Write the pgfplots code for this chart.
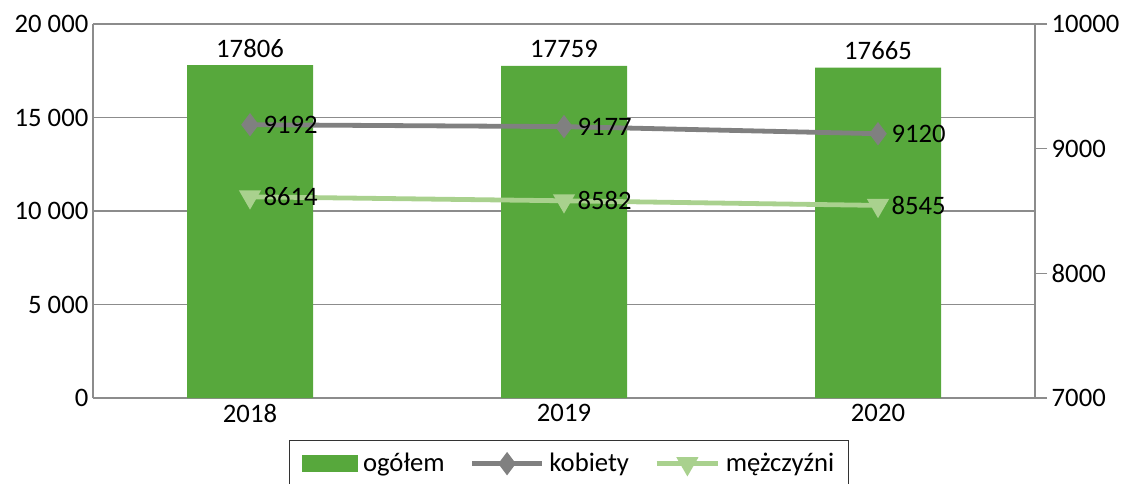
\documentclass[border=0pt]{standalone}
\usepackage{pgfplots}
\pgfplotsset{compat=1.18}
\usepackage{fontspec}
\setmainfont{Carlito}
\definecolor{barg}{HTML}{57A83C}
\definecolor{kob}{HTML}{808080}
\definecolor{mez}{HTML}{A9D18E}
\definecolor{gridc}{HTML}{8C8C8C}
\newcommand{\lblfont}{\fontsize{20}{24}\selectfont}
\pgfplotsset{
  kobleg/.style={legend image code/.code={\draw[##1, mark repeat=2, mark phase=2] plot coordinates {(0pt,0pt) (26pt,0pt) (52pt,0pt)};}},
  mezleg/.style={legend image code/.code={\draw[##1, mark repeat=2, mark phase=2] plot coordinates {(0pt,0pt) (23pt,0pt) (46pt,0pt)};}},
}
\begin{document}
\begin{tikzpicture}
\useasboundingbox (0,0) rectangle (846pt,-362.25pt);
\begin{axis}[
  at={(69.75pt,-298.5pt)}, anchor=south west,
  scale only axis, width=706.5pt, height=280.5pt,
  xmin=-0.5, xmax=2.5, ymin=0, ymax=20000,
  xtick={0,1,2}, xticklabels={2018,2019,2020},
  ytick={0,5000,10000,15000,20000},
  scaled y ticks=false,
  ymajorgrids, grid style={gridc, line width=1.2pt},
  axis line style={gridc, line width=1.2pt},
  axis y line*=left, axis x line*=bottom,
  major tick length=0pt,
  tick label style={font=\lblfont, text=black},
  /pgf/number format/assume math mode=true,
  yticklabel style={/pgf/number format/1000 sep={\ }},
  xticklabel style={yshift=-1pt},
]
\addplot[ybar, bar width=94.5pt, fill=barg, draw=none,
  nodes near coords, point meta=explicit symbolic,
  every node near coord/.append style={font=\lblfont, text=black, yshift=2.3pt}]
  coordinates {(0,17806)[17806] (1,17759)[17759] (2,17665)[17665]};
\end{axis}
\begin{axis}[
  at={(69.75pt,-298.5pt)}, anchor=south west,
  scale only axis, width=706.5pt, height=280.5pt,
  xmin=-0.5, xmax=2.5, ymin=7000, ymax=10000,
  axis y line*=right, axis x line=none,
  ytick={7000,8000,9000,10000},
  scaled y ticks=false,
  axis line style={gridc, line width=1.2pt},
  major tick length=9pt, tick align=outside,
  tick style={gridc, line width=1.2pt},
  tick label style={font=\lblfont, text=black},
  /pgf/number format/assume math mode=true,
  yticklabel style={/pgf/number format/1000 sep={}},
  legend columns=3,
  legend style={at={(0.5057,-0.111)}, anchor=north, draw=black!80, line width=0.8pt,
    font=\lblfont, inner xsep=9pt, inner ysep=8pt,
    /tikz/every odd column/.append style={column sep=2pt},
    /tikz/every even column/.append style={column sep=17pt}},
  legend cell align=left,
]
\addlegendimage{legend image code/.code={\fill[barg] (0pt,-6pt) rectangle (41pt,6pt);}}
\addlegendentry{ogółem}
\addplot[kob, line width=3.6pt, mark=diamond*, mark size=5.8pt,
  nodes near coords, point meta=explicit symbolic,
  every node near coord/.append style={font=\lblfont, text=black, anchor=west, xshift=5pt},
  kobleg]
  coordinates {(0,9192)[9192] (1,9177)[9177] (2,9120)[9120]};
\addlegendentry{kobiety}
\addplot[mez, line width=3.6pt, mark=triangle*, mark size=6pt,
  every mark/.append style={rotate=180},
  nodes near coords, point meta=explicit symbolic,
  every node near coord/.append style={font=\lblfont, text=black, anchor=west, xshift=5pt},
  mezleg]
  coordinates {(0,8614)[8614] (1,8582)[8582] (2,8545)[8545]};
\addlegendentry{mężczyźni}
\end{axis}
\end{tikzpicture}
\end{document}
